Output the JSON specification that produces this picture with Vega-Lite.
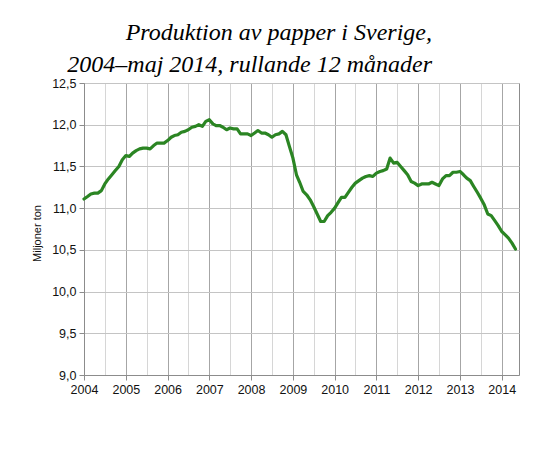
{
  "$schema": "https://vega.github.io/schema/vega-lite/v6.json",
  "width": 435,
  "height": 292,
  "autosize": {"type": "none"},
  "padding": {"left": 84, "top": 83, "right": 41, "bottom": 78},
  "background": "white",
  "title": {
    "text": ["Produktion av papper i Sverige,", "2004–maj 2014, rullande 12 månader"],
    "font": "Liberation Serif",
    "fontStyle": "italic",
    "fontWeight": "normal",
    "fontSize": 24,
    "lineHeight": 32,
    "color": "black",
    "anchor": "end",
    "frame": "group",
    "align": "right",
    "dx": -87,
    "offset": 0
  },
  "config": {
    "view": {"stroke": "#8c8c8c", "strokeWidth": 1},
    "axis": {
      "labelFont": "Liberation Sans",
      "labelFontSize": 12.5,
      "labelColor": "#111111",
      "titleFont": "Liberation Sans",
      "titleFontSize": 11,
      "titleFontWeight": "normal",
      "titleColor": "#111111",
      "domainColor": "#8c8c8c",
      "tickColor": "#8c8c8c",
      "tickSize": 5
    }
  },
  "data": {
    "values": [
      {"date": "2004-01-01", "v": 11.11}, {"date": "2004-02-01", "v": 11.14}, {"date": "2004-03-01", "v": 11.17}, {"date": "2004-04-01", "v": 11.18},
      {"date": "2004-05-01", "v": 11.18}, {"date": "2004-06-01", "v": 11.21}, {"date": "2004-07-01", "v": 11.29}, {"date": "2004-08-01", "v": 11.35},
      {"date": "2004-09-01", "v": 11.40}, {"date": "2004-10-01", "v": 11.45}, {"date": "2004-11-01", "v": 11.50}, {"date": "2004-12-01", "v": 11.58},
      {"date": "2005-01-01", "v": 11.63}, {"date": "2005-02-01", "v": 11.62}, {"date": "2005-03-01", "v": 11.66}, {"date": "2005-04-01", "v": 11.69},
      {"date": "2005-05-01", "v": 11.71}, {"date": "2005-06-01", "v": 11.72}, {"date": "2005-07-01", "v": 11.72}, {"date": "2005-08-01", "v": 11.71},
      {"date": "2005-09-01", "v": 11.75}, {"date": "2005-10-01", "v": 11.78}, {"date": "2005-11-01", "v": 11.78}, {"date": "2005-12-01", "v": 11.78},
      {"date": "2006-01-01", "v": 11.81}, {"date": "2006-02-01", "v": 11.85}, {"date": "2006-03-01", "v": 11.87}, {"date": "2006-04-01", "v": 11.88},
      {"date": "2006-05-01", "v": 11.91}, {"date": "2006-06-01", "v": 11.92}, {"date": "2006-07-01", "v": 11.94}, {"date": "2006-08-01", "v": 11.97},
      {"date": "2006-09-01", "v": 11.98}, {"date": "2006-10-01", "v": 12.00}, {"date": "2006-11-01", "v": 11.98}, {"date": "2006-12-01", "v": 12.04},
      {"date": "2007-01-01", "v": 12.06}, {"date": "2007-02-01", "v": 12.01}, {"date": "2007-03-01", "v": 11.99}, {"date": "2007-04-01", "v": 11.99},
      {"date": "2007-05-01", "v": 11.97}, {"date": "2007-06-01", "v": 11.94}, {"date": "2007-07-01", "v": 11.96}, {"date": "2007-08-01", "v": 11.95},
      {"date": "2007-09-01", "v": 11.95}, {"date": "2007-10-01", "v": 11.89}, {"date": "2007-11-01", "v": 11.89}, {"date": "2007-12-01", "v": 11.89},
      {"date": "2008-01-01", "v": 11.87}, {"date": "2008-02-01", "v": 11.90}, {"date": "2008-03-01", "v": 11.93}, {"date": "2008-04-01", "v": 11.90},
      {"date": "2008-05-01", "v": 11.90}, {"date": "2008-06-01", "v": 11.88}, {"date": "2008-07-01", "v": 11.85}, {"date": "2008-08-01", "v": 11.88},
      {"date": "2008-09-01", "v": 11.89}, {"date": "2008-10-01", "v": 11.92}, {"date": "2008-11-01", "v": 11.88}, {"date": "2008-12-01", "v": 11.74},
      {"date": "2009-01-01", "v": 11.60}, {"date": "2009-02-01", "v": 11.40}, {"date": "2009-03-01", "v": 11.31}, {"date": "2009-04-01", "v": 11.20},
      {"date": "2009-05-01", "v": 11.16}, {"date": "2009-06-01", "v": 11.10}, {"date": "2009-07-01", "v": 11.02}, {"date": "2009-08-01", "v": 10.93},
      {"date": "2009-09-01", "v": 10.84}, {"date": "2009-10-01", "v": 10.84}, {"date": "2009-11-01", "v": 10.91}, {"date": "2009-12-01", "v": 10.95},
      {"date": "2010-01-01", "v": 11.00}, {"date": "2010-02-01", "v": 11.07}, {"date": "2010-03-01", "v": 11.13}, {"date": "2010-04-01", "v": 11.13},
      {"date": "2010-05-01", "v": 11.19}, {"date": "2010-06-01", "v": 11.25}, {"date": "2010-07-01", "v": 11.30}, {"date": "2010-08-01", "v": 11.33},
      {"date": "2010-09-01", "v": 11.36}, {"date": "2010-10-01", "v": 11.38}, {"date": "2010-11-01", "v": 11.39}, {"date": "2010-12-01", "v": 11.38},
      {"date": "2011-01-01", "v": 11.42}, {"date": "2011-02-01", "v": 11.44}, {"date": "2011-03-01", "v": 11.45}, {"date": "2011-04-01", "v": 11.47},
      {"date": "2011-05-01", "v": 11.60}, {"date": "2011-06-01", "v": 11.54}, {"date": "2011-07-01", "v": 11.55}, {"date": "2011-08-01", "v": 11.50},
      {"date": "2011-09-01", "v": 11.45}, {"date": "2011-10-01", "v": 11.40}, {"date": "2011-11-01", "v": 11.32}, {"date": "2011-12-01", "v": 11.30},
      {"date": "2012-01-01", "v": 11.27}, {"date": "2012-02-01", "v": 11.29}, {"date": "2012-03-01", "v": 11.29}, {"date": "2012-04-01", "v": 11.29},
      {"date": "2012-05-01", "v": 11.31}, {"date": "2012-06-01", "v": 11.29}, {"date": "2012-07-01", "v": 11.27}, {"date": "2012-08-01", "v": 11.35},
      {"date": "2012-09-01", "v": 11.39}, {"date": "2012-10-01", "v": 11.39}, {"date": "2012-11-01", "v": 11.43}, {"date": "2012-12-01", "v": 11.43},
      {"date": "2013-01-01", "v": 11.44}, {"date": "2013-02-01", "v": 11.40}, {"date": "2013-03-01", "v": 11.36}, {"date": "2013-04-01", "v": 11.33},
      {"date": "2013-05-01", "v": 11.26}, {"date": "2013-06-01", "v": 11.19}, {"date": "2013-07-01", "v": 11.12}, {"date": "2013-08-01", "v": 11.04},
      {"date": "2013-09-01", "v": 10.93}, {"date": "2013-10-01", "v": 10.91}, {"date": "2013-11-01", "v": 10.85}, {"date": "2013-12-01", "v": 10.79},
      {"date": "2014-01-01", "v": 10.72}, {"date": "2014-02-01", "v": 10.68}, {"date": "2014-03-01", "v": 10.64}, {"date": "2014-04-01", "v": 10.58},
      {"date": "2014-05-01", "v": 10.51}
    ]
  },
  "mark": {"type": "line", "color": "#2b8523", "strokeWidth": 3.2, "strokeJoin": "round", "strokeCap": "round"},
  "encoding": {
    "x": {
      "field": "date",
      "type": "temporal",
      "scale": {
        "type": "utc",
        "domain": [
          {"year": 2004, "month": 1, "date": 1, "utc": true},
          {"year": 2014, "month": 6, "date": 1, "utc": true}
        ],
        "nice": false
      },
      "axis": {
        "title": null,
        "values": [
          {"year": 2004, "month": 1, "date": 1, "utc": true}, {"year": 2004, "month": 7, "date": 1, "utc": true},
          {"year": 2005, "month": 1, "date": 1, "utc": true}, {"year": 2005, "month": 7, "date": 1, "utc": true},
          {"year": 2006, "month": 1, "date": 1, "utc": true}, {"year": 2006, "month": 7, "date": 1, "utc": true},
          {"year": 2007, "month": 1, "date": 1, "utc": true}, {"year": 2007, "month": 7, "date": 1, "utc": true},
          {"year": 2008, "month": 1, "date": 1, "utc": true}, {"year": 2008, "month": 7, "date": 1, "utc": true},
          {"year": 2009, "month": 1, "date": 1, "utc": true}, {"year": 2009, "month": 7, "date": 1, "utc": true},
          {"year": 2010, "month": 1, "date": 1, "utc": true}, {"year": 2010, "month": 7, "date": 1, "utc": true},
          {"year": 2011, "month": 1, "date": 1, "utc": true}, {"year": 2011, "month": 7, "date": 1, "utc": true},
          {"year": 2012, "month": 1, "date": 1, "utc": true}, {"year": 2012, "month": 7, "date": 1, "utc": true},
          {"year": 2013, "month": 1, "date": 1, "utc": true}, {"year": 2013, "month": 7, "date": 1, "utc": true},
          {"year": 2014, "month": 1, "date": 1, "utc": true}
        ],
        "labelExpr": "utcmonth(datum.value) == 0 ? utcFormat(datum.value, '%Y') : ''",
        "labelPadding": 3,
        "labelFlush": false,
        "labelOverlap": false,
        "grid": true,
        "gridColor": {"condition": {"test": "utcmonth(datum.value) == 0", "value": "#a6a6a6"}, "value": "#d6d6d6"},
        "tickOpacity": {"condition": {"test": "utcmonth(datum.value) == 0", "value": 1}, "value": 0}
      }
    },
    "y": {
      "field": "v",
      "type": "quantitative",
      "scale": {"domain": [9, 12.5], "nice": false, "zero": false},
      "axis": {
        "title": "Miljoner ton",
        "values": [9, 9.5, 10, 10.5, 11, 11.5, 12, 12.5],
        "labelExpr": "replace(format(datum.value, '.1f'), '.', ',')",
        "labelPadding": 3,
        "titlePadding": 9,
        "titleY": 150,
        "grid": true,
        "gridColor": "#c4c4c4"
      }
    }
  }
}
